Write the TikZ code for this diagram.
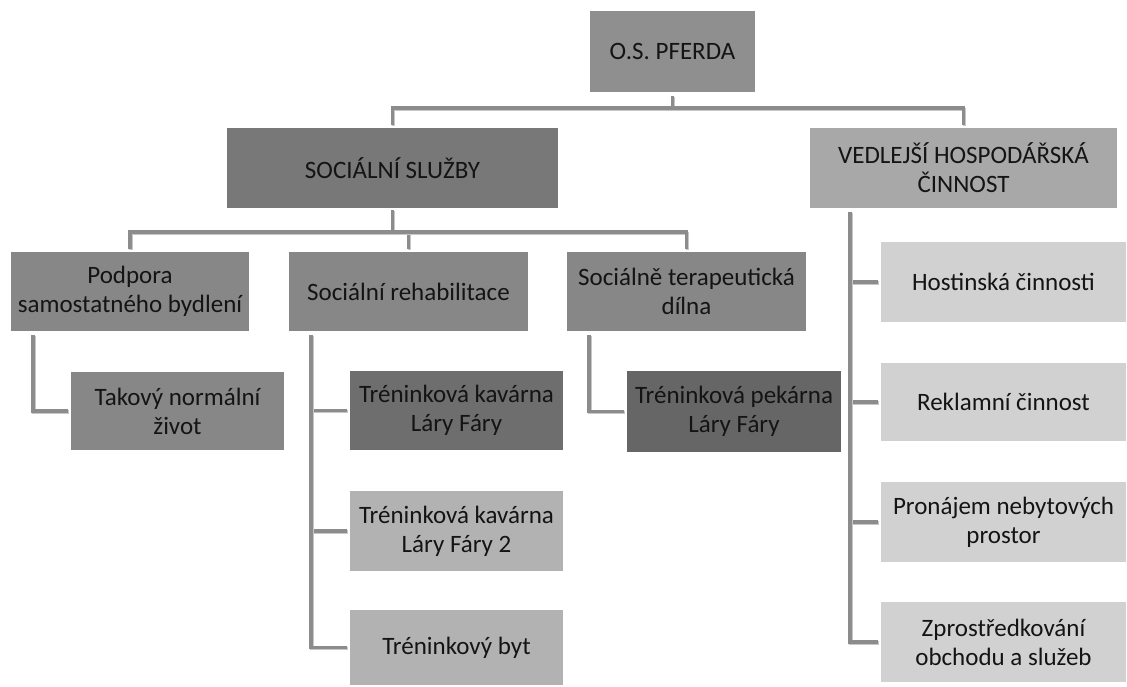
\documentclass[tikz,border=0pt]{standalone}
\usepackage{fontspec}
\setmainfont{Carlito}

\begin{document}
\begin{tikzpicture}[x=1pt,y=-1pt]
	\useasboundingbox (0,0) rectangle (1127,686);
	\tikzstyle{box}=[rectangle,inner sep=0pt,align=center,text=black!92,font=\fontsize{25}{29}\selectfont]
	\tikzstyle{conn}=[draw=black!45,line width=3.5pt,shorten <=4pt,shorten >=3pt,preaction={draw=black!22,line width=3.5pt,transform canvas={xshift=1pt,yshift=-1.2pt}}]

	% top levels
	\path (672.5,51.5) node[box,fill=black!44,minimum width=165pt,minimum height=81pt] (root) {O.S. PFERDA};
	\path (392.5,168) node[box,fill=black!53,minimum width=331pt,minimum height=80pt] (soc) {SOCIÁLNÍ SLUŽBY};
	\path (963.5,168) node[box,fill=black!34,minimum width=307pt,minimum height=80pt] (ved) {VEDLEJŠÍ HOSPODÁŘSKÁ\\ČINNOST};

	\path (130,291.5) node[box,fill=black!47,minimum width=238pt,minimum height=79pt] (pod) {Podpora\\samostatného bydlení};
	\path (408.5,291.5) node[box,fill=black!47,minimum width=239pt,minimum height=79pt] (reh) {Sociální rehabilitace};
	\path (686.5,291.5) node[box,fill=black!47,minimum width=239pt,minimum height=79pt] (ter) {Sociálně terapeutická\\dílna};

	% services
	\path (177.5,411) node[box,fill=black!47,minimum width=213pt,minimum height=78pt] (tak) {Takový normální\\život};
	\path (456.5,410.5) node[box,fill=black!57,minimum width=213pt,minimum height=79pt] (kav1) {Tréninková kavárna\\Láry Fáry};
	\path (456.5,531) node[box,fill=black!30,minimum width=213pt,minimum height=80pt] (kav2) {Tréninková kavárna\\Láry Fáry 2};
	\path (456.5,647.5) node[box,fill=black!30,minimum width=213pt,minimum height=75pt] (byt) {Tréninkový byt};
	\path (734,411.5) node[box,fill=black!60,minimum width=214pt,minimum height=81pt] (pek) {Tréninková pekárna\\Láry Fáry};

	\path (1003.5,282) node[box,fill=black!18,minimum width=245pt,minimum height=80pt] (hos) {Hostinská činnosti};
	\path (1003.5,402) node[box,fill=black!18,minimum width=245pt,minimum height=78pt] (rek) {Reklamní činnost};
	\path (1003.5,522) node[box,fill=black!18,minimum width=245pt,minimum height=80pt] (pro) {Pronájem nebytových\\prostor};
	\path (1003.5,642) node[box,fill=black!18,minimum width=245pt,minimum height=80pt] (zpr) {Zprostředkování\\obchodu a služeb};

	% connectors
	\draw[conn] (root.south) -- ++(0,16) -| (soc.north);
	\draw[conn] (root.south) -- ++(0,16) -| (ved.north);
	\draw[conn,shorten <=2pt] (soc.south) -- ++(0,24) -| (pod.north);
	\draw[conn,shorten <=2pt] (soc.south) -- ++(0,24) -| (reh.north);
	\draw[conn,shorten <=2pt] (soc.south) -- ++(0,24) -| (ter.north);
	\draw[conn] ([xshift=22pt]pod.south west) |- (tak.west);
	\draw[conn] ([xshift=22pt]reh.south west) |- (kav1.west);
	\draw[conn] ([xshift=22pt]reh.south west) |- (kav2.west);
	\draw[conn] ([xshift=22pt]reh.south west) |- (byt.west);
	\draw[conn] ([xshift=22pt]ter.south west) |- (pek.west);
	\draw[conn] ([xshift=40pt]ved.south west) |- (hos.west);
	\draw[conn] ([xshift=40pt]ved.south west) |- (rek.west);
	\draw[conn] ([xshift=40pt]ved.south west) |- (pro.west);
	\draw[conn] ([xshift=40pt]ved.south west) |- (zpr.west);
\end{tikzpicture}
\end{document}
